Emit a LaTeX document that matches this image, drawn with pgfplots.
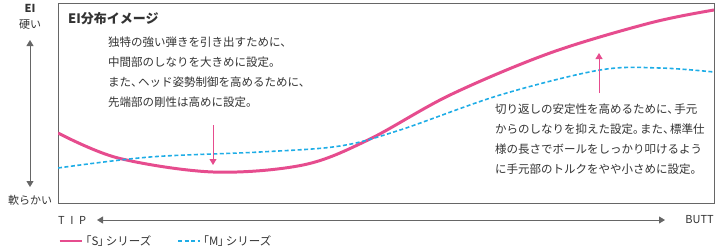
\documentclass[border=0pt]{standalone}
\usepackage{pgfplots}
\pgfplotsset{compat=1.18}
\usepackage{fontspec}
\setmainfont{Noto Sans CJK JP}
\usetikzlibrary{arrows.meta}
\definecolor{spink}{HTML}{E64C8E}
\definecolor{mblue}{HTML}{1FADE6}
\definecolor{frame}{HTML}{666666}
\definecolor{txt}{HTML}{333333}
\newcommand{\tou}{、\kern-0.4em}
\newcommand{\ku}{。\kern-0.4em}
\begin{document}
\begin{tikzpicture}[x=1bp,y=1bp]
\useasboundingbox (0,0) rectangle (720,250);
\begin{axis}[
  at={(58bp,47bp)}, anchor=south west,
  width=656bp, height=200bp, scale only axis,
  xmin=0, xmax=656, ymin=0, ymax=200,
  axis line style={frame, line width=1pt},
  ticks=none,
  clip=true,
  legend style={at={(0,-0.19)}, anchor=west, draw=none, fill=none, inner sep=0pt,
    font=\fontsize{11.5bp}{13bp}\selectfont\color{txt}, legend columns=2,
    /tikz/every even column/.append style={column sep=24bp},
    legend cell align=left},
  legend image code/.code={\draw[#1] (0bp,0bp) -- (22bp,0bp);},
]
\addplot[spink, line width=3pt, smooth, tension=0.55] coordinates {
 (0,70) (60,45) (155,31) (245,38) (310,63)
 (392,108) (492,150) (592,180) (656,193)};
\addlegendentry{\kern-0.45em「S\kern-0.05em」\kern-0.3emシリーズ}
\addplot[mblue, line width=1.6pt, dash pattern=on 4bp off 2.5bp, smooth, tension=0.55] coordinates {
 (0,35) (92,46) (202,51) (282,57) (342,73)
 (442,108) (542,133) (602,135) (656,131)};
\addlegendentry{\kern-0.45em「M\kern-0.05em」\kern-0.3emシリーズ}
\draw[spink, line width=1pt, -{Triangle[length=6bp,width=7bp]}] (axis cs:155,78) -- (axis cs:155,38);
\draw[spink, line width=1pt, -{Triangle[length=6bp,width=7bp]}] (axis cs:541,110) -- (axis cs:541,150);
\node[anchor=north west, inner sep=0pt, text=txt, font=\fontsize{13bp}{15bp}\selectfont\bfseries] at (axis cs:10,191) {EI分布イメージ};
\node[anchor=north west, inner sep=0pt, align=left, text=txt, font=\fontsize{11.5bp}{20bp}\selectfont] at (axis cs:50,166)
 {独特の強い弾きを引き出すために、\\中間部のしなりを大きめに設定。\\また\tou ヘッド姿勢制御を高めるために、\\先端部の剛性は高めに設定。};
\node[anchor=north west, inner sep=0pt, align=left, text=txt, font=\fontsize{11.5bp}{20bp}\selectfont] at (axis cs:437,99)
 {切り返しの安定性を高めるために\tou 手元\\からのしなりを抑えた設定\ku また\tou 標準仕\\様の長さでボールをしっかり叩けるよう\\に手元部のトルクをやや小さめに設定。};
\end{axis}
% outer labels
\node[text=txt, font=\fontsize{11bp}{13bp}\selectfont\bfseries] at (30,242) {EI};
\node[text=txt, font=\fontsize{11bp}{13bp}\selectfont] at (30,225) {硬い};
\node[text=txt, font=\fontsize{11bp}{13bp}\selectfont] at (30,50) {軟らかい};
\draw[frame, line width=1pt, {Triangle[length=6bp,width=7bp]}-{Triangle[length=6bp,width=7bp]}] (30,210) -- (30,63);
\node[anchor=west, inner sep=0pt, text=txt, font=\fontsize{11bp}{13bp}\selectfont] at (58,30) {T\hspace{0.5em}I\hspace{0.5em}P};
\draw[frame, line width=1pt, {Triangle[length=6bp,width=7bp]}-{Triangle[length=6bp,width=7bp]}] (97,30) -- (665,30);
\node[anchor=east, inner sep=0pt, text=txt, font=\fontsize{11bp}{13bp}\selectfont] at (714,30) {BUTT};
\end{tikzpicture}
\end{document}
